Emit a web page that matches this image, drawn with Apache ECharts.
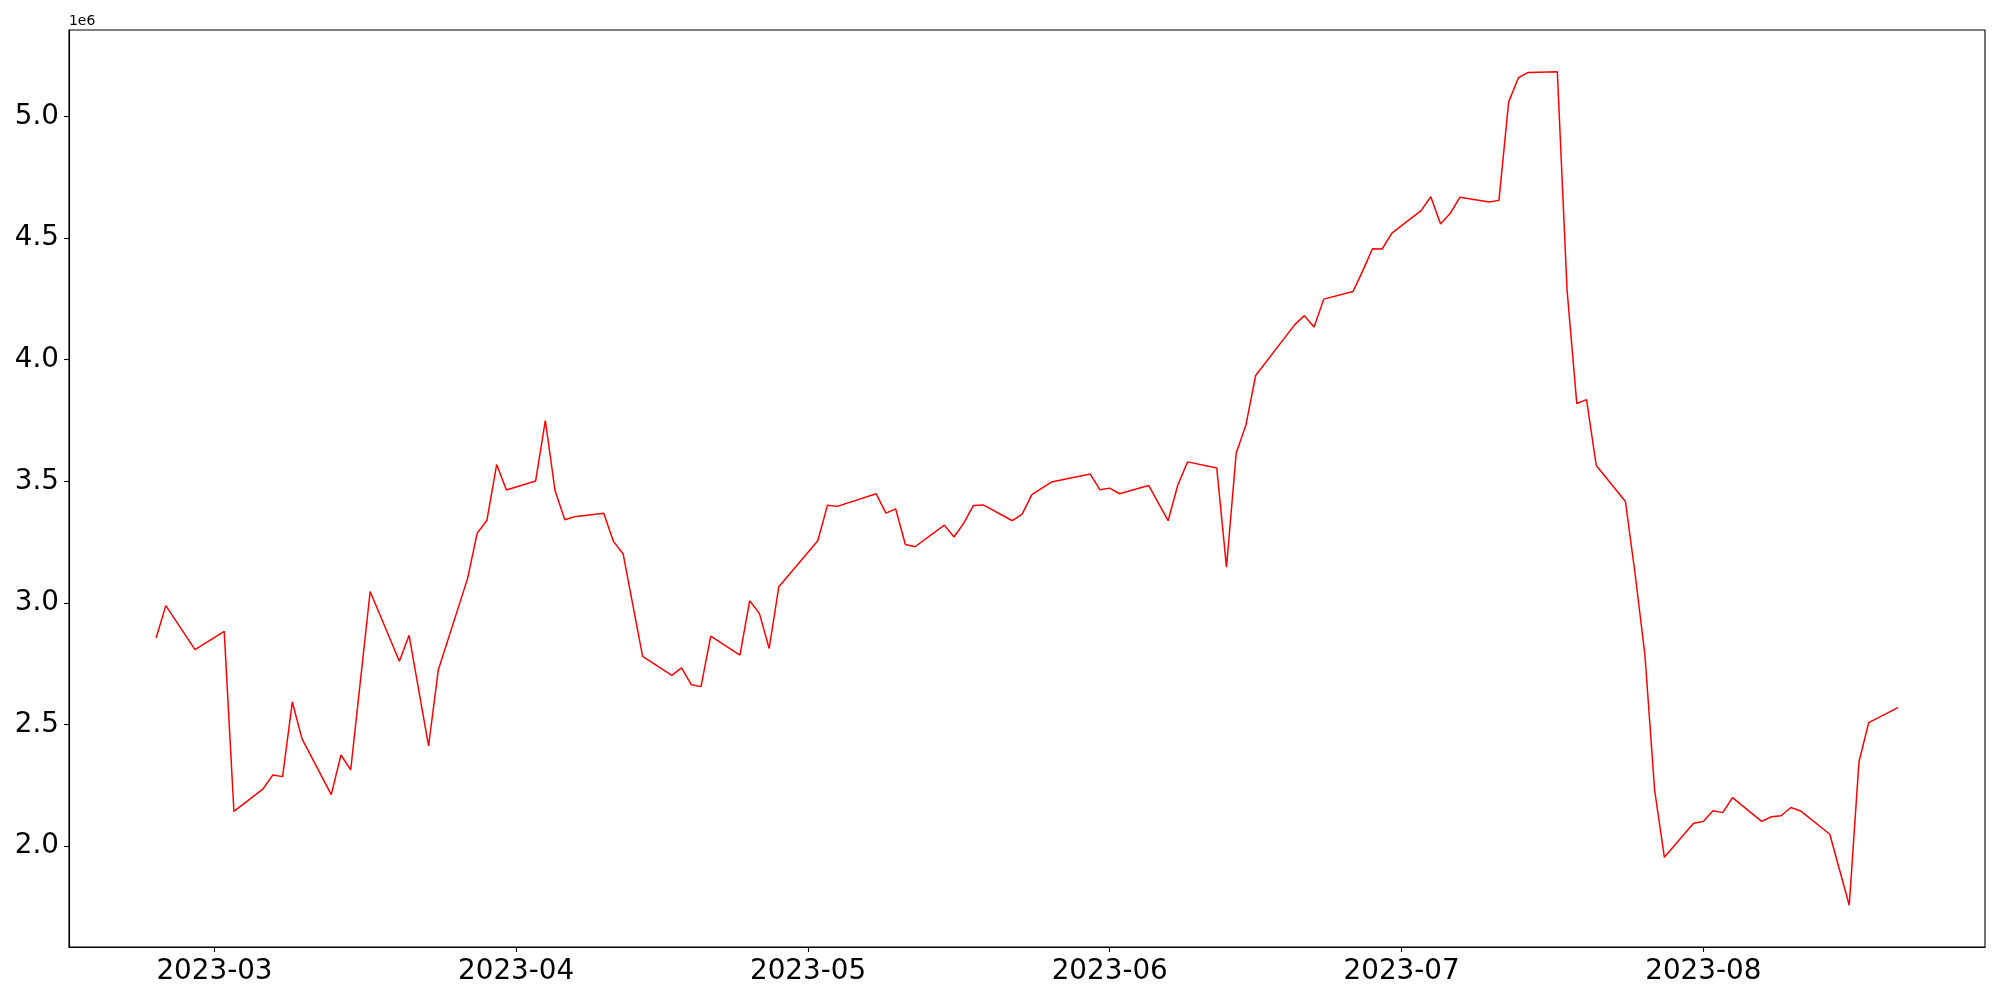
<!DOCTYPE html>
<html>
<head>
<meta charset="utf-8">
<script src="https://cdn.jsdelivr.net/npm/echarts@6/dist/echarts.min.js"></script>
<style>
  html, body { margin: 0; padding: 0; background: #ffffff; }
  #chart { width: 2000px; height: 1000px; }
</style>
</head>
<body>
<div id="chart"></div>
<script>
const dates = [
  '2023-02-23','2023-02-24','2023-02-27','2023-03-02','2023-03-03','2023-03-06','2023-03-07','2023-03-08',
  '2023-03-09','2023-03-10','2023-03-13','2023-03-14','2023-03-15','2023-03-17','2023-03-20','2023-03-21',
  '2023-03-23','2023-03-24','2023-03-27','2023-03-28','2023-03-29','2023-03-30','2023-03-31','2023-04-03',
  '2023-04-04','2023-04-05','2023-04-06','2023-04-07','2023-04-10','2023-04-11','2023-04-12','2023-04-14',
  '2023-04-17','2023-04-18','2023-04-19','2023-04-20','2023-04-21','2023-04-24','2023-04-25','2023-04-26',
  '2023-04-27','2023-04-28','2023-05-02','2023-05-03','2023-05-04','2023-05-08','2023-05-09','2023-05-10',
  '2023-05-11','2023-05-12','2023-05-15','2023-05-16','2023-05-17','2023-05-18','2023-05-19','2023-05-22',
  '2023-05-23','2023-05-24','2023-05-26','2023-05-30','2023-05-31','2023-06-01','2023-06-02','2023-06-05',
  '2023-06-07','2023-06-08','2023-06-09','2023-06-12','2023-06-13','2023-06-14','2023-06-15','2023-06-16',
  '2023-06-20','2023-06-21','2023-06-22','2023-06-23','2023-06-26','2023-06-27','2023-06-28','2023-06-29',
  '2023-06-30','2023-07-03','2023-07-04','2023-07-05','2023-07-06','2023-07-07','2023-07-10','2023-07-11',
  '2023-07-12','2023-07-13','2023-07-14','2023-07-17','2023-07-18','2023-07-19','2023-07-20','2023-07-21',
  '2023-07-24','2023-07-25','2023-07-26','2023-07-27','2023-07-28','2023-07-31','2023-08-01','2023-08-02',
  '2023-08-03','2023-08-04','2023-08-07','2023-08-08','2023-08-09','2023-08-10','2023-08-11','2023-08-14',
  '2023-08-16','2023-08-17','2023-08-18','2023-08-21'
];
const values = [
  2856000,2989000,2808000,2883000,2143000,2236000,2293000,2286000,
  2593000,2441000,2212000,2375000,2314000,3047000,2760000,2867000,
  2412000,2724000,3099000,3287000,3340000,3569000,3464000,3501000,
  3750000,3462000,3342000,3354000,3369000,3253000,3201000,2780000,
  2702000,2733000,2664000,2656000,2864000,2786000,3009000,2957000,
  2813000,3067000,3256000,3402000,3397000,3449000,3369000,3387000,
  3240000,3231000,3320000,3271000,3328000,3401000,3403000,3338000,
  3365000,3445000,3497000,3530000,3465000,3472000,3449000,3483000,
  3338000,3485000,3580000,3555000,3147000,3616000,3732000,3935000,
  4143000,4181000,4134000,4249000,4280000,4365000,4456000,4455000,
  4520000,4613000,4670000,4558000,4602000,4668000,4648000,4655000,
  5060000,5159000,5181000,5184000,4287000,3820000,3836000,3565000,
  3417000,3117000,2787000,2230000,1955000,2094000,2102000,2146000,
  2138000,2200000,2102000,2121000,2125000,2159000,2145000,2049000,
  1757000,2347000,2508000,2570000
];
const xTickLabels = ['2023-03','2023-04','2023-05','2023-06','2023-07','2023-08'];
const yTickValues = [2000000,2500000,3000000,3500000,4000000,4500000,5000000];
const offsetLabel = '1e6';

const ts = dates.map(d => Date.parse(d + 'T00:00:00Z'));
const seriesData = ts.map((t, i) => [t, values[i]]);
const xMinData = ts[0], xMaxData = ts[ts.length - 1];
const xPad = (xMaxData - xMinData) * 0.05;
const yMinData = Math.min(...values), yMaxData = Math.max(...values);
const yPad = (yMaxData - yMinData) * 0.05;
const xTicks = xTickLabels.map(s => Date.parse(s + '-01T00:00:00Z'));
const fmtMonth = function (v) {
  const d = new Date(v);
  return d.getUTCFullYear() + '-' + String(d.getUTCMonth() + 1).padStart(2, '0');
};

const chart = echarts.init(document.getElementById('chart'), null, { renderer: 'canvas' });
chart.setOption({
  animation: false,
  backgroundColor: '#ffffff',
  grid: {
    left: 69, right: 15, top: 30, bottom: 53,
    show: true, borderColor: '#000000', borderWidth: 1.1, backgroundColor: 'transparent'
  },
  graphic: [{
    type: 'text', left: 69, top: 14,
    style: { text: offsetLabel, fontSize: 13.9, fontFamily: 'DejaVu Sans', fill: '#000000' }
  }],
  xAxis: {
    type: 'value',
    min: xMinData - xPad,
    max: xMaxData + xPad,
    scale: true,
    splitLine: { show: false },
    axisLine: { show: true, onZero: false, lineStyle: { color: '#000000', width: 1.1 } },
    axisTick: { show: true, length: 5, lineStyle: { color: '#000000', width: 1.1 }, customValues: xTicks },
    axisLabel: {
      customValues: xTicks,
      formatter: fmtMonth,
      fontSize: 27.8, fontFamily: 'DejaVu Sans', color: '#000000', margin: 11
    }
  },
  yAxis: {
    type: 'value',
    min: yMinData - yPad,
    max: yMaxData + yPad,
    scale: true,
    splitLine: { show: false },
    axisLine: { show: true, onZero: false, lineStyle: { color: '#000000', width: 1.1 } },
    axisTick: { show: true, length: 5, lineStyle: { color: '#000000', width: 1.1 }, customValues: yTickValues },
    axisLabel: {
      customValues: yTickValues,
      formatter: function (v) { return (v / 1e6).toFixed(1); },
      fontSize: 27.8, fontFamily: 'DejaVu Sans', color: '#000000', margin: 10,
      padding: [4, 0, 0, 0]
    }
  },
  series: [{
    type: 'line',
    data: seriesData,
    showSymbol: false,
    lineStyle: { color: '#ff0000', width: 1.5 },
    itemStyle: { color: '#ff0000' }
  }]
});
</script>
</body>
</html>
